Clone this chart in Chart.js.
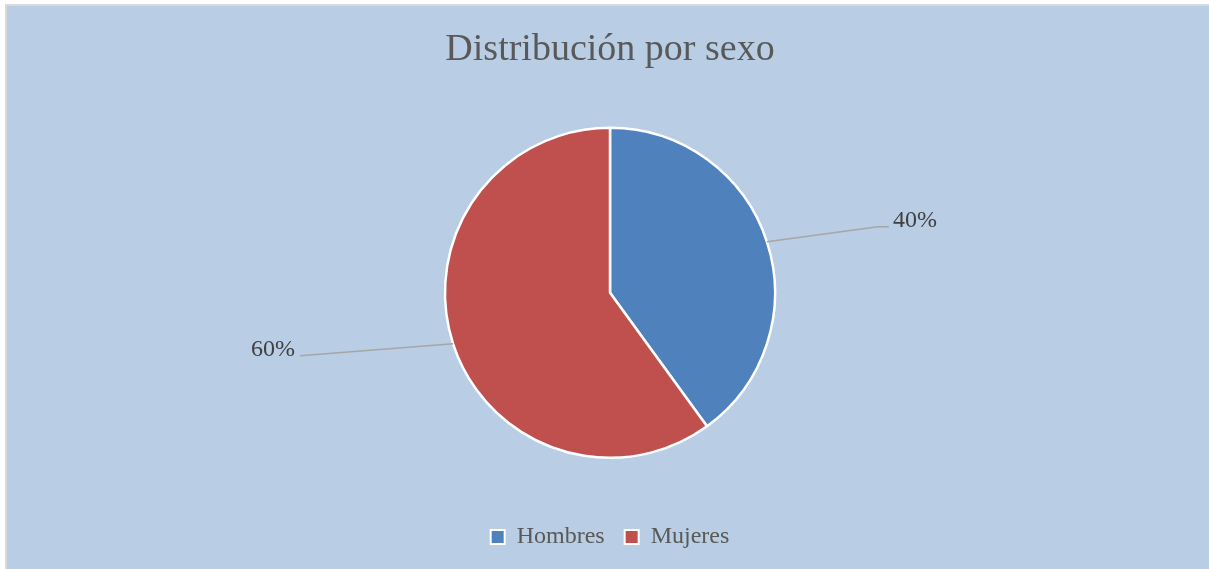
<!DOCTYPE html>
<html>
<head>
<meta charset="utf-8">
<script src="https://cdn.jsdelivr.net/npm/chart.js@4.4.1/dist/chart.umd.min.js"></script>
<style>
  html, body { margin: 0; padding: 0; background: #ffffff; width: 1209px; height: 569px; overflow: hidden; }
  #marco {
    position: absolute; left: 5px; top: 4px; width: 1202px; height: 563px;
    border-left: 2px solid #d9d9d9; border-top: 2px solid #d9d9d9;
    background: #B9CDE5;
  }
  #marco canvas { display: block; }
</style>
</head>
<body>
<div id="marco"><canvas id="graficoSexo" width="1202" height="563"></canvas></div>
<script>
// --- DATOS ---
const categorias = ['Hombres', 'Mujeres'];
const porcentajes = [40, 60];
const colores = ['#4F81BD', '#C0504D'];

const fuente = "'Liberation Serif', 'DejaVu Serif', serif";

// --- ETIQUETAS CON LINEA GUIA ---
const etiquetasGuia = {
    id: 'etiquetasGuia',
    afterDatasetsDraw(chart, args, opts) {
        const ctx = chart.ctx;
        const meta = chart.getDatasetMeta(0);
        meta.data.forEach((arco, i) => {
            const a = (arco.startAngle + arco.endAngle) / 2;
            const x0 = arco.x + Math.cos(a) * arco.outerRadius;
            const y0 = arco.y + Math.sin(a) * arco.outerRadius;
            const [dx, dy, codo] = opts.guias[i];
            const x1 = x0 + dx, y1 = y0 + dy;
            const derecha = Math.cos(a) >= 0;
            const x2 = x1 + (derecha ? codo : -codo);
            ctx.save();
            ctx.strokeStyle = '#A6A6A6';
            ctx.lineWidth = 1.5;
            ctx.beginPath();
            ctx.moveTo(x0, y0);
            ctx.lineTo(x1, y1);
            ctx.lineTo(x2, y1);
            ctx.stroke();
            ctx.fillStyle = '#404040';
            ctx.font = '24px ' + fuente;
            ctx.textBaseline = 'middle';
            ctx.textAlign = derecha ? 'left' : 'right';
            const texto = chart.data.datasets[0].data[i] + '%';
            ctx.fillText(texto, x2 + (derecha ? 4 : -5), y1 - 6);
            ctx.restore();
        });
    }
};

const ctx = document.getElementById('graficoSexo').getContext('2d');
new Chart(ctx, {
    type: 'pie',
    data: {
        labels: categorias,
        datasets: [{
            data: porcentajes,
            backgroundColor: colores,
            borderColor: '#ffffff',
            borderWidth: 2.5,
            radius: 165
        }]
    },
    options: {
        responsive: false,
        animation: false,
        layout: { padding: { left: 4, right: 0, top: 0, bottom: 10 } },
        plugins: {
            tooltip: { enabled: false },
            title: {
                display: true,
                text: 'Distribución por sexo',
                color: '#595959',
                font: { family: fuente, size: 38, weight: 'normal' },
                padding: { top: 21, bottom: 8 }
            },
            legend: {
                position: 'bottom',
                labels: {
                    color: '#595959',
                    font: { family: fuente, size: 24 },
                    boxWidth: 14,
                    boxHeight: 14,
                    padding: 20,
                    generateLabels(chart) {
                        return chart.data.labels.map((l, i) => ({
                            text: l,
                            fillStyle: colores[i],
                            strokeStyle: '#ffffff',
                            lineWidth: 2,
                            fontColor: '#595959',
                            index: i
                        }));
                    }
                }
            },
            etiquetasGuia: { guias: [[111, -15, 11], [-153, 12, 0]] }
        }
    },
    plugins: [etiquetasGuia]
});
</script>
</body>
</html>
